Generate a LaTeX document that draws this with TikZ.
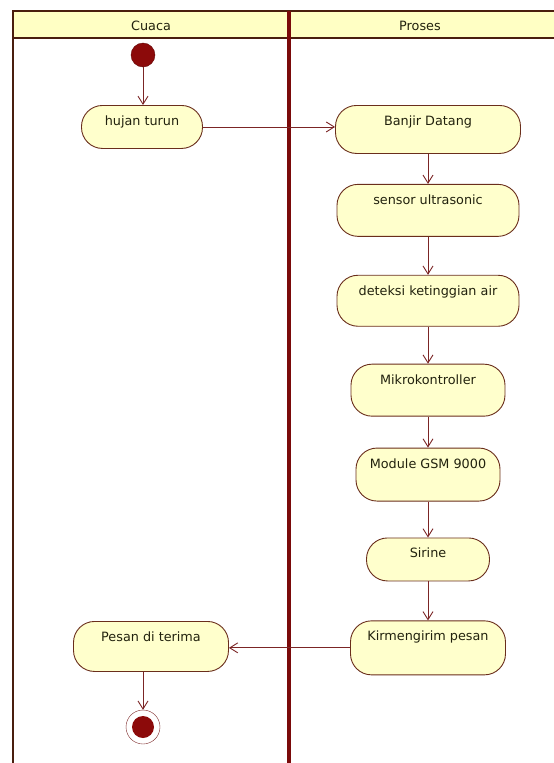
\documentclass[tikz,border=0pt]{standalone}
\usepackage{fontspec}
\setmainfont{DejaVu Sans}
\usetikzlibrary{arrows.meta,positioning}
\definecolor{laneline}{HTML}{4A1E0E}
\definecolor{lanediv}{HTML}{7A0A0A}
\definecolor{headfill}{HTML}{FFFFC4}
\definecolor{actfill}{HTML}{FFFFCC}
\definecolor{actline}{HTML}{6A2E1C}
\definecolor{flowline}{HTML}{7B2525}
\definecolor{dotfill}{HTML}{8C0A0A}
\definecolor{acttext}{HTML}{22220E}
\tikzset{
  actbox/.style={rectangle,rounded corners=21pt,draw=actline,fill=actfill,line width=0.9pt,
    inner xsep=0pt,inner ysep=0pt,text height=20pt,text depth=#1,text=acttext,
    font=\fontsize{12.8}{15}\selectfont},
  actbox/.default=30pt,
  initdot/.style={circle,fill=dotfill,draw=dotfill!70!black,minimum size=24pt,inner sep=0pt},
  finaldot/.style={circle,draw=flowline,fill=white,minimum size=34pt,inner sep=0pt,
    path picture={\fill[dotfill] (path picture bounding box.center) circle (11pt);}},
  lanehead/.style={text=acttext,font=\fontsize{12.8}{15}\selectfont}
}

\begin{document}
\begin{tikzpicture}[x=1pt,y=1pt,node distance=30pt,>={Straight Barb[length=8pt,width=10pt]},
    every edge/.append style={draw=flowline,line width=0.9pt}]
  \useasboundingbox (0,0) rectangle (554,-763);
  % swimlanes
  \fill[headfill] (13,-11) rectangle (560,-38);
  \draw[laneline,line width=2pt] (13,-780) -- (13,-11) -- (560,-11);
  \draw[laneline,line width=2pt] (13,-38) -- (560,-38);
  \draw[lanediv,line width=4.5pt] (289,-11) -- (289,-780);
  \node[lanehead] (cuaca) at (151,-26) {Cuaca};
  \node[lanehead] (proses) at (420,-26) {Proses};

  \node[initdot] (start) at (143,-55) {};
  \node[actbox=23pt,anchor=north,minimum width=121pt] (hujan) at (142,-105) {hujan turun};
  \node[actbox=28pt,anchor=north,minimum width=185pt] (banjir) at (428,-105) {Banjir Datang};
  \node[actbox=32pt,minimum width=182pt,below=of banjir] (sensor) {sensor ultrasonic};
  \node[actbox=31pt,minimum width=182pt,below=38pt of sensor] (deteksi) {deteksi ketinggian air};
  \node[actbox=32pt,minimum width=154pt,below=37pt of deteksi] (mikro) {Mikrokontroller};
  \node[actbox=33pt,minimum width=144pt,below=31pt of mikro] (gsm) {Module GSM 9000};
  \node[actbox=23pt,minimum width=123pt,below=36pt of gsm] (sirine) {Sirine};
  \node[actbox=34pt,minimum width=155pt,below=39pt of sirine] (kirim) {Kirmengirim pesan};
  \node[actbox,anchor=north,minimum width=155pt] (pesan) at (151,-621) {Pesan di terima};
  \node[finaldot] (stop) at (143,-727) {};

  \path[->]
    (start) edge (start |- hujan.north)
    (hujan.east) edge (hujan.east -| banjir.west)
    (banjir) edge (sensor)
    (sensor) edge (deteksi)
    (deteksi) edge (mikro)
    (mikro) edge (gsm)
    (gsm) edge (sirine)
    (sirine) edge (kirim)
    (kirim.west) edge (kirim.west -| pesan.east)
    (stop |- pesan.south) edge (stop);
\end{tikzpicture}
\end{document}
